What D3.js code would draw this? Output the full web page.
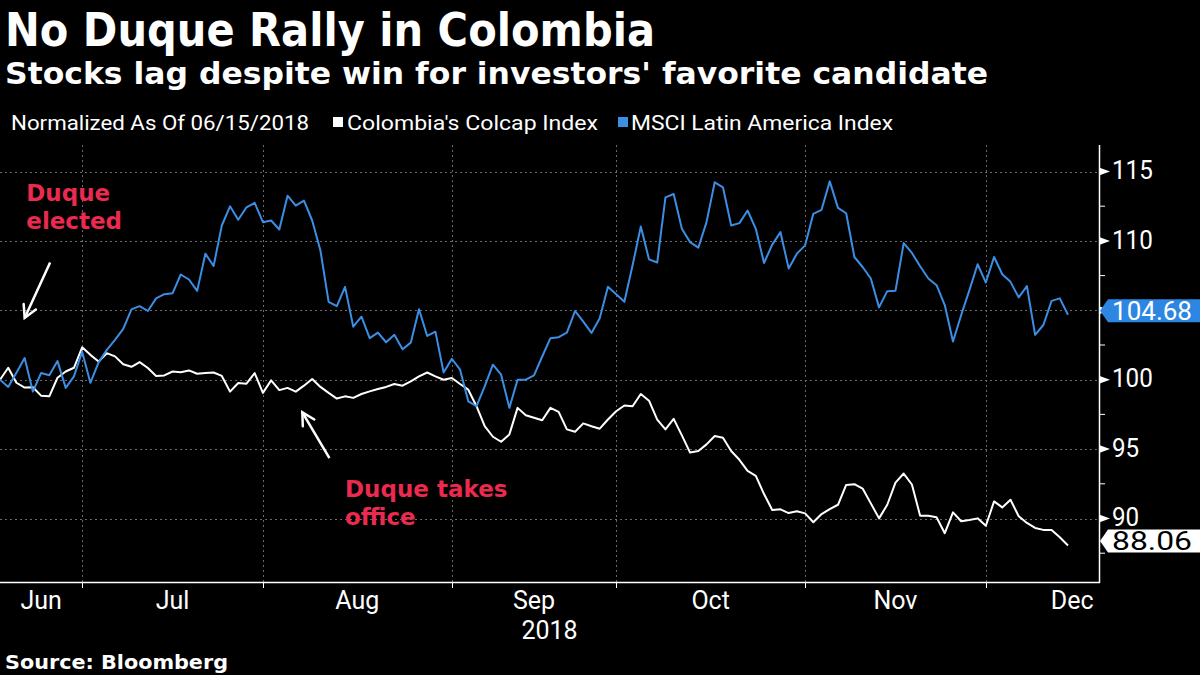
<!DOCTYPE html>
<html><head><meta charset="utf-8">
<script src="https://cdn.jsdelivr.net/npm/d3@7"></script>
<style>
html,body{margin:0;padding:0;background:#000;}
svg{display:block;}
</style></head><body>
<svg id="chart" width="1200" height="675"></svg>
<script>
// ---------- DATA ----------
const startDate = "2018-06-15";
const axisEndDate = "2018-12-31";
const seriesNames = ["Colombia's Colcap Index", "MSCI Latin America Index"];
const colcap = [100.00, 100.86, 99.78, 99.43, 99.46, 98.85, 98.80, 100.14, 100.59, 100.86,
102.33, 101.79, 101.31, 101.91, 101.68, 101.11, 100.93, 101.27, 100.84, 100.27,
100.31, 100.59, 100.54, 100.67, 100.43, 100.48, 100.52, 100.27, 99.14, 99.76,
99.71, 100.48, 99.05, 99.95, 99.25, 99.41, 99.14, 99.57, 100.05, 99.48,
99.05, 98.64, 98.80, 98.69, 98.97, 99.16, 99.33, 99.48, 99.69, 99.57,
99.88, 100.24, 100.52, 100.24, 100.00, 100.12, 99.69, 99.28, 98.09, 96.65,
95.89, 95.53, 96.06, 97.97, 97.44, 97.26, 97.08, 97.97, 97.68, 96.42,
96.25, 96.85, 96.65, 96.47, 97.13, 97.73, 98.14, 98.09, 98.97, 98.49,
97.13, 96.42, 97.18, 95.99, 94.75, 94.86, 95.34, 95.94, 95.82, 94.86,
94.23, 93.43, 93.07, 91.76, 90.61, 90.66, 90.39, 90.52, 90.37, 89.73,
90.32, 90.68, 90.99, 92.42, 92.47, 92.16, 91.09, 90.01, 90.99, 92.59,
93.24, 92.45, 90.20, 90.20, 90.09, 88.94, 90.44, 89.80, 89.89, 90.01,
89.48, 91.23, 90.80, 91.35, 90.16, 89.68, 89.32, 89.18, 89.18, 88.65,
88.06];
const msci = [100.00, 99.48, 100.50, 101.56, 99.14, 100.48, 100.32, 101.34, 99.41, 100.24,
102.01, 99.78, 101.25, 102.15, 102.87, 103.66, 105.07, 105.30, 104.95, 105.86,
106.16, 106.22, 107.58, 107.22, 106.40, 109.08, 108.19, 111.11, 112.49, 111.52,
112.42, 112.74, 111.35, 111.47, 110.82, 113.26, 112.54, 112.90, 111.47, 109.32,
105.61, 105.30, 106.69, 103.82, 104.54, 102.99, 103.39, 102.70, 103.23, 102.20,
102.67, 105.07, 103.15, 103.46, 100.52, 101.51, 100.72, 98.44, 98.09, 99.52,
101.08, 100.36, 97.97, 100.00, 100.00, 100.31, 101.67, 102.99, 103.06, 103.39,
104.95, 104.18, 103.37, 104.42, 106.69, 106.16, 105.61, 108.24, 111.04, 108.67,
108.44, 113.14, 113.38, 110.87, 109.91, 109.51, 111.35, 114.22, 113.86, 111.11,
111.28, 112.19, 110.87, 108.41, 109.73, 110.63, 108.01, 109.08, 109.68, 111.95,
112.24, 114.29, 112.38, 111.99, 108.84, 108.12, 107.29, 105.21, 106.38, 106.40,
109.84, 109.13, 108.17, 107.29, 106.81, 105.38, 102.75, 104.66, 106.45, 108.32,
107.00, 108.84, 107.60, 107.05, 105.93, 106.74, 103.23, 103.94, 105.68, 105.86,
104.68];
const yGridTicks = [90, 95, 100, 105, 110, 115];
const yLabelTicks = [90, 95, 100, 110, 115];
const yMinorTicks = [87.5, 92.5, 97.5, 102.5, 107.5, 112.5];
const yearLabel = "2018";
const titleText = "No Duque Rally in Colombia";
const subtitleText = "Stocks lag despite win for investors' favorite candidate";
const legendNote = "Normalized As Of 06/15/2018";
const sourceText = "Source: Bloomberg";
const annotations = [
  {lines: ["Duque", "elected"], textAt: [3.2, 112.85], tip: [3.0, 104.45], tail: [6.1, 108.45]},
  {lines: ["Duque takes", "office"], textAt: [42.0, 91.57], tip: [36.8, 97.65], tail: [40.1, 94.35]}
];

// ---------- SETUP ----------
const svg = d3.select("#chart");
const W = 1200, H = 675;
const plot = {left: 0, right: 1099, top: 145, bottom: 582};
const BLUE = "#3b8ee4", BOXBLUE = "#2c86e2", RED = "#ea2a4f", GRID = "#6a6a6a";
const UI = "Roboto, 'Open Sans', sans-serif";
const BOLD = "'DejaVu Sans', Verdana, sans-serif";

svg.append("rect").attr("width", W).attr("height", H).attr("fill", "#000");

const parse = d3.timeParse("%Y-%m-%d");
const allDays = d3.timeDay.range(parse(startDate), d3.timeDay.offset(parse(axisEndDate), 1))
  .filter(d => d.getDay() !== 0 && d.getDay() !== 6);
const dates = allDays.slice(0, colcap.length);

const x = d3.scaleLinear().domain([0, colcap.length - 1]).range([0, 1068]);
const y = d3.scaleLinear().domain([90, 115]).range([518.5, 171.5]);

// month boundaries: last trading day index of each month
const monthGroups = d3.groups(allDays.map((d, i) => ({d, i})), o => d3.timeMonth(o.d));
const monthEnds = monthGroups.map(([m, arr]) => ({month: m, last: d3.max(arr, o => o.i)}));
const monthFmt = d3.timeFormat("%b");

// ---------- TITLES ----------
svg.append("text").attr("x", 5).attr("y", 46).text(titleText)
  .attr("fill", "#fff").attr("font-family", BOLD).attr("font-weight", "bold")
  .attr("font-size", 47).attr("textLength", 650).attr("lengthAdjust", "spacingAndGlyphs");
svg.append("text").attr("x", 5).attr("y", 84).text(subtitleText)
  .attr("fill", "#fff").attr("font-family", BOLD).attr("font-weight", "bold")
  .attr("font-size", 31).attr("textLength", 983).attr("lengthAdjust", "spacingAndGlyphs");

// legend
const lg = svg.append("g").attr("font-family", UI).attr("font-size", 21).attr("fill", "#fff");
lg.append("text").attr("x", 11).attr("y", 130).text(legendNote)
  .attr("textLength", 298).attr("lengthAdjust", "spacingAndGlyphs");
lg.append("rect").attr("x", 333).attr("y", 117).attr("width", 10).attr("height", 10).attr("fill", "#fff");
lg.append("text").attr("x", 347).attr("y", 130).text(seriesNames[0])
  .attr("textLength", 251).attr("lengthAdjust", "spacingAndGlyphs");
lg.append("rect").attr("x", 618).attr("y", 117).attr("width", 10).attr("height", 10).attr("fill", BLUE);
lg.append("text").attr("x", 631).attr("y", 130).text(seriesNames[1])
  .attr("textLength", 262).attr("lengthAdjust", "spacingAndGlyphs");

// ---------- GRID ----------
const grid = svg.append("g").attr("stroke", GRID).attr("stroke-width", 1).attr("stroke-dasharray", "2,3");
grid.selectAll(".hg").data(yGridTicks).join("line")
  .attr("x1", plot.left).attr("x2", plot.right)
  .attr("y1", d => Math.round(y(d)) + 0.5).attr("y2", d => Math.round(y(d)) + 0.5);
const innerMonthEnds = monthEnds.filter(m => m.last < colcap.length - 1);
grid.selectAll(".vg").data(innerMonthEnds).join("line")
  .attr("x1", d => Math.round(x(d.last)) + 0.5).attr("x2", d => Math.round(x(d.last)) + 0.5)
  .attr("y1", plot.top).attr("y2", plot.bottom);

// ---------- LINES ----------
const line = d3.line().x((d, i) => x(i)).y(d => y(d));
svg.append("path").datum(colcap).attr("d", line)
  .attr("fill", "none").attr("stroke", "#fff").attr("stroke-width", 2).attr("stroke-linejoin", "round");
svg.append("path").datum(msci).attr("d", line)
  .attr("fill", "none").attr("stroke", BLUE).attr("stroke-width", 2).attr("stroke-linejoin", "round");

// ---------- AXES ----------
const ax = svg.append("g");
ax.append("line").attr("x1", plot.right + 0.5).attr("x2", plot.right + 0.5)
  .attr("y1", plot.top).attr("y2", plot.bottom + 1).attr("stroke", "#fff").attr("stroke-width", 1.5);
ax.append("line").attr("x1", plot.left).attr("x2", plot.right + 1)
  .attr("y1", plot.bottom + 0.5).attr("y2", plot.bottom + 0.5).attr("stroke", "#fff").attr("stroke-width", 1.5);
// bottom ticks
ax.selectAll(".bt").data(innerMonthEnds).join("line")
  .attr("x1", d => Math.round(x(d.last)) + 0.5).attr("x2", d => Math.round(x(d.last)) + 0.5)
  .attr("y1", plot.bottom).attr("y2", plot.bottom + 6).attr("stroke", "#fff").attr("stroke-width", 1);
// minor right ticks
ax.selectAll(".mt").data(yMinorTicks).join("line")
  .attr("x1", plot.right).attr("x2", plot.right + 6)
  .attr("y1", d => y(d)).attr("y2", d => y(d)).attr("stroke", "#fff").attr("stroke-width", 1);
// major right ticks (triangles)
ax.selectAll(".tri").data(yGridTicks).join("path")
  .attr("d", d => `M${plot.right},${y(d) - 4}L${plot.right + 11},${y(d)}L${plot.right},${y(d) + 4}Z`)
  .attr("fill", "#fff");
ax.selectAll(".yl").data(yLabelTicks).join("text")
  .attr("x", plot.right + 13).attr("y", d => y(d) - 1).attr("dy", "0.35em")
  .text(d => d).attr("fill", "#fff").attr("font-family", UI).attr("font-size", 25)
  .attr("textLength", d => String(d).length * 13.6).attr("lengthAdjust", "spacingAndGlyphs");

// month labels
const monthLabels = monthEnds.map((m, k) => ({
  name: monthFmt(m.month),
  pos: ((k === 0 ? 0 : monthEnds[k - 1].last) + m.last) / 2
}));
ax.selectAll(".ml").data(monthLabels).join("text")
  .attr("x", d => x(d.pos)).attr("y", 609).attr("text-anchor", "middle")
  .text(d => d.name).attr("fill", "#fff").attr("font-family", UI).attr("font-size", 25);
ax.append("text").attr("x", (plot.left + plot.right) / 2).attr("y", 639).attr("text-anchor", "middle")
  .text(yearLabel).attr("fill", "#fff").attr("font-family", UI).attr("font-size", 25);

// ---------- LAST VALUE LABELS ----------
function valueBox(val, fill, textFill, off) {
  const cy = y(val) + off;
  const g = svg.append("g");
  g.append("path")
    .attr("d", `M${plot.right + 1},${cy}L${plot.right + 9},${cy - 11.5}L${W},${cy - 11.5}L${W},${cy + 11.5}L${plot.right + 9},${cy + 11.5}Z`)
    .attr("fill", fill);
  g.append("text").attr("x", plot.right + 13).attr("y", cy).attr("dy", "0.36em")
    .text(d3.format(".2f")(val)).attr("fill", textFill).attr("font-family", UI).attr("font-size", 25)
    .attr("textLength", 80).attr("lengthAdjust", "spacingAndGlyphs");
}
valueBox(msci[msci.length - 1], BOXBLUE, "#fff", -4);
valueBox(colcap[colcap.length - 1], "#fff", "#000", -4.5);

// ---------- ANNOTATIONS ----------
const an = svg.append("g");
annotations.forEach(a => {
  const t = an.append("text").attr("x", x(a.textAt[0])).attr("y", y(a.textAt[1]))
    .attr("fill", RED).attr("font-family", BOLD).attr("font-weight", "bold").attr("font-size", 23);
  a.lines.forEach((l, i) => t.append("tspan").attr("x", x(a.textAt[0])).attr("dy", i === 0 ? 0 : 28).text(l));
  const tx = x(a.tip[0]), ty = y(a.tip[1]), sx = x(a.tail[0]), sy = y(a.tail[1]);
  an.append("line").attr("x1", sx).attr("y1", sy).attr("x2", tx).attr("y2", ty)
    .attr("stroke", "#fff").attr("stroke-width", 2.5);
  const ang = Math.atan2(ty - sy, tx - sx), L = 14, spread = 0.5;
  const p1 = [tx - L * Math.cos(ang - spread), ty - L * Math.sin(ang - spread)];
  const p2 = [tx - L * Math.cos(ang + spread), ty - L * Math.sin(ang + spread)];
  an.append("path").attr("d", `M${p1}L${tx},${ty}L${p2}`)
    .attr("fill", "none").attr("stroke", "#fff").attr("stroke-width", 2.5).attr("stroke-linecap", "round");
});

// ---------- SOURCE ----------
svg.append("text").attr("x", 5).attr("y", 669).text(sourceText)
  .attr("fill", "#fff").attr("font-family", BOLD).attr("font-weight", "bold").attr("font-size", 20)
  .attr("textLength", 223).attr("lengthAdjust", "spacingAndGlyphs");
</script>
</body></html>
